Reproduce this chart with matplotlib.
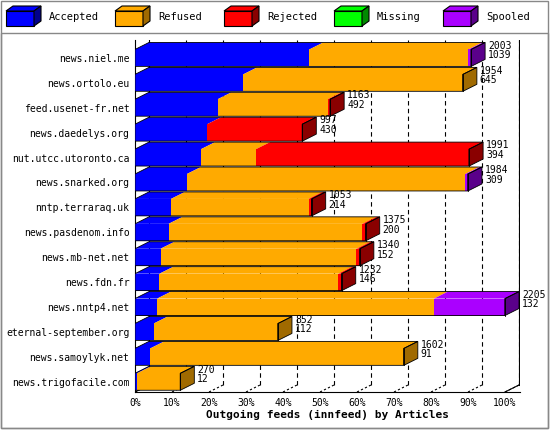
import matplotlib
matplotlib.use("Agg")
import matplotlib.pyplot as plt
from matplotlib.patches import Polygon, Rectangle
import numpy as np

hosts = ["news.niel.me","news.ortolo.eu","feed.usenet-fr.net","news.daedelys.org",
         "nut.utcc.utoronto.ca","news.snarked.org","nntp.terraraq.uk","news.pasdenom.info",
         "news.mb-net.net","news.fdn.fr","news.nntp4.net","eternal-september.org",
         "news.samoylyk.net","news.trigofacile.com"]
accepted = [1039,645,492,430,394,309,214,200,152,146,132,112,91,12]
refused  = [948,1309,656,0,328,1660,820,1155,1168,1066,1650,740,1511,258]
rejected = [0,0,15,567,1269,0,19,20,20,20,0,0,0,0]
missing  = [0,0,0,0,0,0,0,0,0,0,0,0,0,0]
spooled  = [16,0,0,0,0,15,0,0,0,0,423,0,0,0]
totals   = [2003,1954,1163,997,1991,1984,1053,1375,1340,1232,2205,852,1602,270]
series = ["Accepted","Refused","Rejected","Missing","Spooled"]
colors = ["#0000ff","#ffaa00","#ff0000","#00ff00","#aa00ff"]
dark   = ["#00008a","#a06a00","#8a0000","#008a00","#5a008a"]

W, H = 550, 430
fig = plt.figure(figsize=(W/100, H/100), dpi=100)
fig.patch.set_facecolor("white")
mono = "DejaVu Sans Mono"

ov = fig.add_axes([0,0,1,1], zorder=0)
ov.set_xlim(0,W); ov.set_ylim(H,0); ov.axis("off")
ov.add_patch(Rectangle((1,1),W-3,H-3,fill=False,ec="#888888",lw=1))
ov.add_patch(Rectangle((1,33),W-3,H-35,fill=False,ec="#888888",lw=1))
lx = [6,115,224,334,443]
for i,(s,c,d) in enumerate(zip(series,colors,dark)):
    x=lx[i]; y=11; w=28; h=15; dx=7; dy=5
    ov.add_patch(Rectangle((x,y),w,h,fc=c,ec="black",lw=0.8))
    ov.add_patch(Polygon([(x,y),(x+dx,y-dy),(x+w+dx,y-dy),(x+w,y)],fc=c,ec="black",lw=0.8))
    ov.add_patch(Polygon([(x+w,y),(x+w+dx,y-dy),(x+w+dx,y+h-dy),(x+w,y+h)],fc=d,ec="black",lw=0.8))
    ov.text(x+w+dx+8, y+h/2-1, s, fontsize=7.5, family=mono, va="center")

ax = fig.add_axes([135/W, (H-392)/H, 385/W, 352/H], zorder=1)
ax.patch.set_alpha(0)
px = 3.7
ax.set_xlim(0, 385/px)
ax.set_ylim(13.41, -0.72)
DX = 14/px; DY = 7/24.9
bh = 0.68
maxv = max(totals)
for x in range(10,101,10):
    ax.plot([x+DX,x+DX],[13.41-DY,-0.72],ls=(0,(4,3)),color="black",lw=0.8)
ax.plot([DX,DX],[13.41-DY,-0.72],color="black",lw=0.8)
ax.plot([0,DX],[13.41,13.41-DY],color="black",lw=0.8)
ax.plot([100,100+DX],[13.41,13.41-DY],color="black",lw=0.8)
ax.plot([100+DX,100+DX],[13.41-DY,-0.72],color="black",lw=0.8)
for x in range(0,101,10):
    ax.plot([x,x+DX],[13.41,13.41-DY],ls=(0,(2,2)),color="black",lw=0.8)
for i in range(len(hosts)):
    vals = [accepted[i],refused[i],rejected[i],missing[i],spooled[i]]
    left = 0.0
    top = i - bh/2
    for k,v in enumerate(vals):
        if v <= 0: continue
        w = v/maxv*100
        ax.barh(i, w, left=left, height=bh, color=colors[k], edgecolor="none", zorder=3)
        ax.add_patch(Polygon([(left,top),(left+DX,top-DY),(left+w+DX,top-DY),(left+w,top)],
                             fc=colors[k],ec="none",zorder=3))
        left += w
        lastk = k
    ax.add_patch(Polygon([(left,top),(left+DX,top-DY),(left+DX,top-DY+bh),(left,top+bh)],
                         fc=dark[lastk],ec="black",lw=0.6,zorder=4))
    ax.add_patch(Polygon([(0,top),(DX,top-DY),(left+DX,top-DY),(left,top),(left,top+bh),(0,top+bh)],
                         fill=False,ec="black",lw=0.6,zorder=4))
    ax.plot([left,left],[top,top+bh],color="black",lw=0.6,zorder=4)
    ax.text(left+DX+0.8, i-0.3, f"{totals[i]}\n{accepted[i]}", fontsize=7, family=mono,
            va="center", ha="left", linespacing=0.95, zorder=5)
ax.set_yticks(range(len(hosts)))
ax.set_yticklabels(hosts, family=mono, fontsize=7)
ax.set_xticks(range(0,101,10))
ax.set_xticklabels([f"{x}%" for x in range(0,101,10)], family=mono, fontsize=7)
ax.tick_params(length=0, pad=4)
for s in ["top","right"]: ax.spines[s].set_visible(False)
ax.spines["left"].set_linewidth(0.8)
ax.spines["bottom"].set_linewidth(0.8)
ax.set_xlabel("Outgoing feeds (innfeed) by Articles", family=mono, fontsize=8,
              fontweight="bold", labelpad=2)
fig.savefig("out.png", dpi=100)
